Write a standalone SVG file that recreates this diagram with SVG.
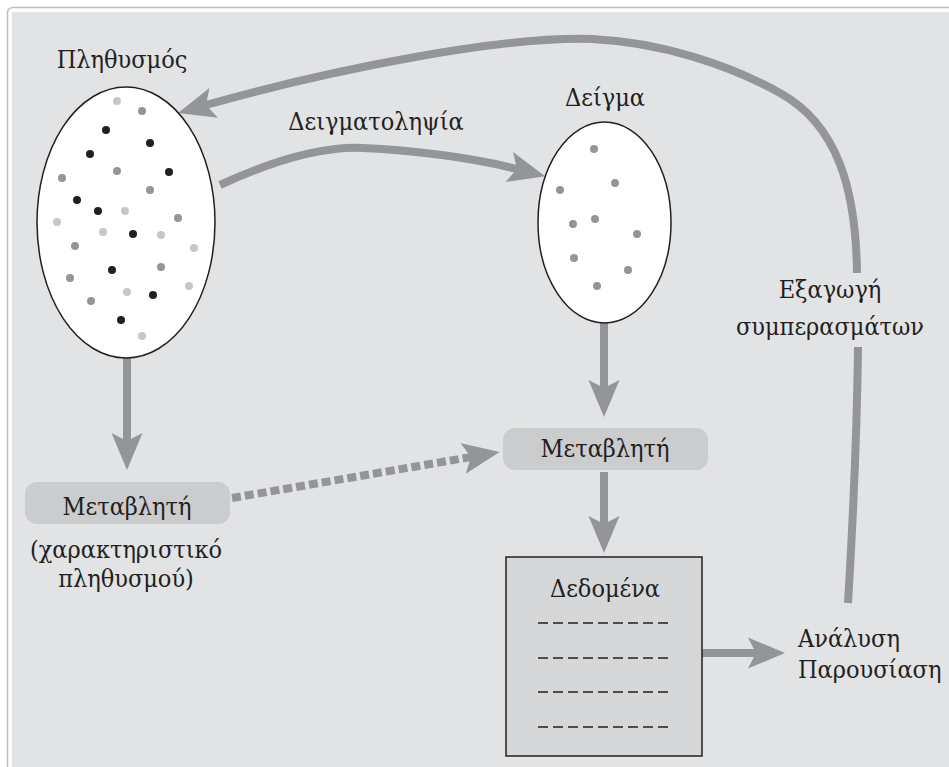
<svg xmlns="http://www.w3.org/2000/svg" width="949" height="767" viewBox="0 0 949 767">
<style>
.t{font-family:"DejaVu Serif Condensed","DejaVu Serif",serif;font-stretch:condensed;font-size:25px;fill:#231f20}
.c{text-anchor:middle}
.a{fill:none;stroke:#939598;stroke-width:8}
.bk{fill:#231f20}.gr{fill:#939598}.lt{fill:#c6c7c9}
.el{fill:#ffffff;stroke:#231f20;stroke-width:1.5}
.var{fill:#cbcccd}
.dl{stroke:#231f20;stroke-width:1.5;stroke-dasharray:10 5}
</style>
<defs>
<marker id="ah" markerUnits="userSpaceOnUse" markerWidth="37" markerHeight="32" viewBox="0 -16 37 32" refX="8" refY="0" orient="auto">
<path d="M0,-15.5 L37,0 L0,15.5 L8,0 Z" fill="#939598"/>
</marker>
</defs>
<rect x="0" y="0" width="949" height="767" fill="#ffffff"/>
<rect x="7.5" y="7.5" width="960" height="780" rx="5" fill="#ffffff" stroke="#bdbec0" stroke-width="1.5"/>
<rect x="12" y="12" width="950" height="770" fill="#e2e3e5"/>

<g id="connectors">
<path class="a" d="M220,185 C270,162 320,146 363,148 C410,150 470,157 517,169" marker-end="url(#ah)"/>
<path class="a" d="M848,603 C853,520 857,430 858,347"/>
<path class="a" d="M857,273 C856,190 838,125 780,93 C730,65 660,42 592,39 C500,36 330,70 206,105" marker-end="url(#ah)"/>
<path class="a" d="M127,358 L127,441" marker-end="url(#ah)"/>
<path class="a" d="M604,323 L604,388" marker-end="url(#ah)"/>
<path class="a" d="M604,472 L604,524" marker-end="url(#ah)"/>
<path class="a" d="M702,653 L756,653" marker-end="url(#ah)"/>
<path class="a" d="M232,498 L471,457" stroke-dasharray="9 4" marker-end="url(#ah)"/>
</g>

<g id="population">
<ellipse class="el" cx="126" cy="222.5" rx="89" ry="135.5"/>
<g>
<circle class="lt" cx="117" cy="101" r="4"/>
<circle class="gr" cx="142" cy="111" r="4"/>
<circle class="bk" cx="106" cy="130" r="4"/>
<circle class="bk" cx="150" cy="143" r="4"/>
<circle class="bk" cx="90" cy="154" r="4"/>
<circle class="gr" cx="117" cy="171" r="4"/>
<circle class="bk" cx="169" cy="172" r="4"/>
<circle class="gr" cx="62" cy="178" r="4"/>
<circle class="gr" cx="150" cy="190" r="4"/>
<circle class="bk" cx="77" cy="200" r="4"/>
<circle class="bk" cx="98" cy="211" r="4"/>
<circle class="lt" cx="125" cy="211" r="4"/>
<circle class="gr" cx="178" cy="218" r="4"/>
<circle class="lt" cx="57" cy="222" r="4"/>
<circle class="lt" cx="103" cy="232" r="4"/>
<circle class="bk" cx="133" cy="234" r="4"/>
<circle class="lt" cx="161" cy="235" r="4"/>
<circle class="lt" cx="194" cy="248" r="4"/>
<circle class="gr" cx="75" cy="246" r="4"/>
<circle class="bk" cx="112" cy="270" r="4"/>
<circle class="gr" cx="161" cy="267" r="4"/>
<circle class="gr" cx="70" cy="278" r="4"/>
<circle class="lt" cx="189" cy="286" r="4"/>
<circle class="lt" cx="127" cy="292" r="4"/>
<circle class="bk" cx="153" cy="295" r="4"/>
<circle class="gr" cx="91" cy="301" r="4"/>
<circle class="bk" cx="121" cy="320" r="4"/>
<circle class="lt" cx="142" cy="336" r="4"/>
</g>
<text class="t c" x="122" y="68">Πληθυσμός</text>
</g>

<g id="sample">
<ellipse class="el" cx="604.5" cy="222.5" rx="66.5" ry="100.5"/>
<circle class="gr" cx="594" cy="149" r="4"/>
<circle class="gr" cx="615" cy="183" r="4"/>
<circle class="gr" cx="560" cy="190" r="4"/>
<circle class="gr" cx="595" cy="219" r="4"/>
<circle class="gr" cx="573" cy="224" r="4"/>
<circle class="gr" cx="637" cy="234" r="4"/>
<circle class="gr" cx="574" cy="258" r="4"/>
<circle class="gr" cx="628" cy="270" r="4"/>
<circle class="gr" cx="597" cy="286" r="4"/>
<text class="t c" x="605" y="106">Δείγμα</text>
</g>

<g id="sampling-label">
<text class="t c" x="376" y="130">Δειγματοληψία</text>
</g>

<g id="variable-population">
<rect class="var" x="25" y="482" width="205" height="42" rx="12"/>
<text class="t c" x="127" y="515">Μεταβλητή</text>
<text class="t c" x="126" y="558">(χαρακτηριστικό</text>
<text class="t c" x="126" y="587">πληθυσμού)</text>
</g>

<g id="variable-sample">
<rect class="var" x="503" y="428" width="205" height="42" rx="12"/>
<text class="t c" x="605" y="457">Μεταβλητή</text>
</g>

<g id="data">
<rect x="506" y="557" width="196" height="199" fill="#d6d7d9" stroke="#231f20" stroke-width="1.5"/>
<text class="t c" x="605" y="597">Δεδομένα</text>
<line class="dl" x1="538" y1="623" x2="673" y2="623"/>
<line class="dl" x1="538" y1="658" x2="673" y2="658"/>
<line class="dl" x1="538" y1="692" x2="673" y2="692"/>
<line class="dl" x1="538" y1="727" x2="673" y2="727"/>
</g>

<g id="inference">
<text class="t c" x="830" y="298">Εξαγωγή</text>
<text class="t c" x="830" y="335">συμπερασμάτων</text>
</g>

<g id="analysis">
<text class="t" x="798" y="647">Ανάλυση</text>
<text class="t" x="798" y="678">Παρουσίαση</text>
</g>
</svg>
